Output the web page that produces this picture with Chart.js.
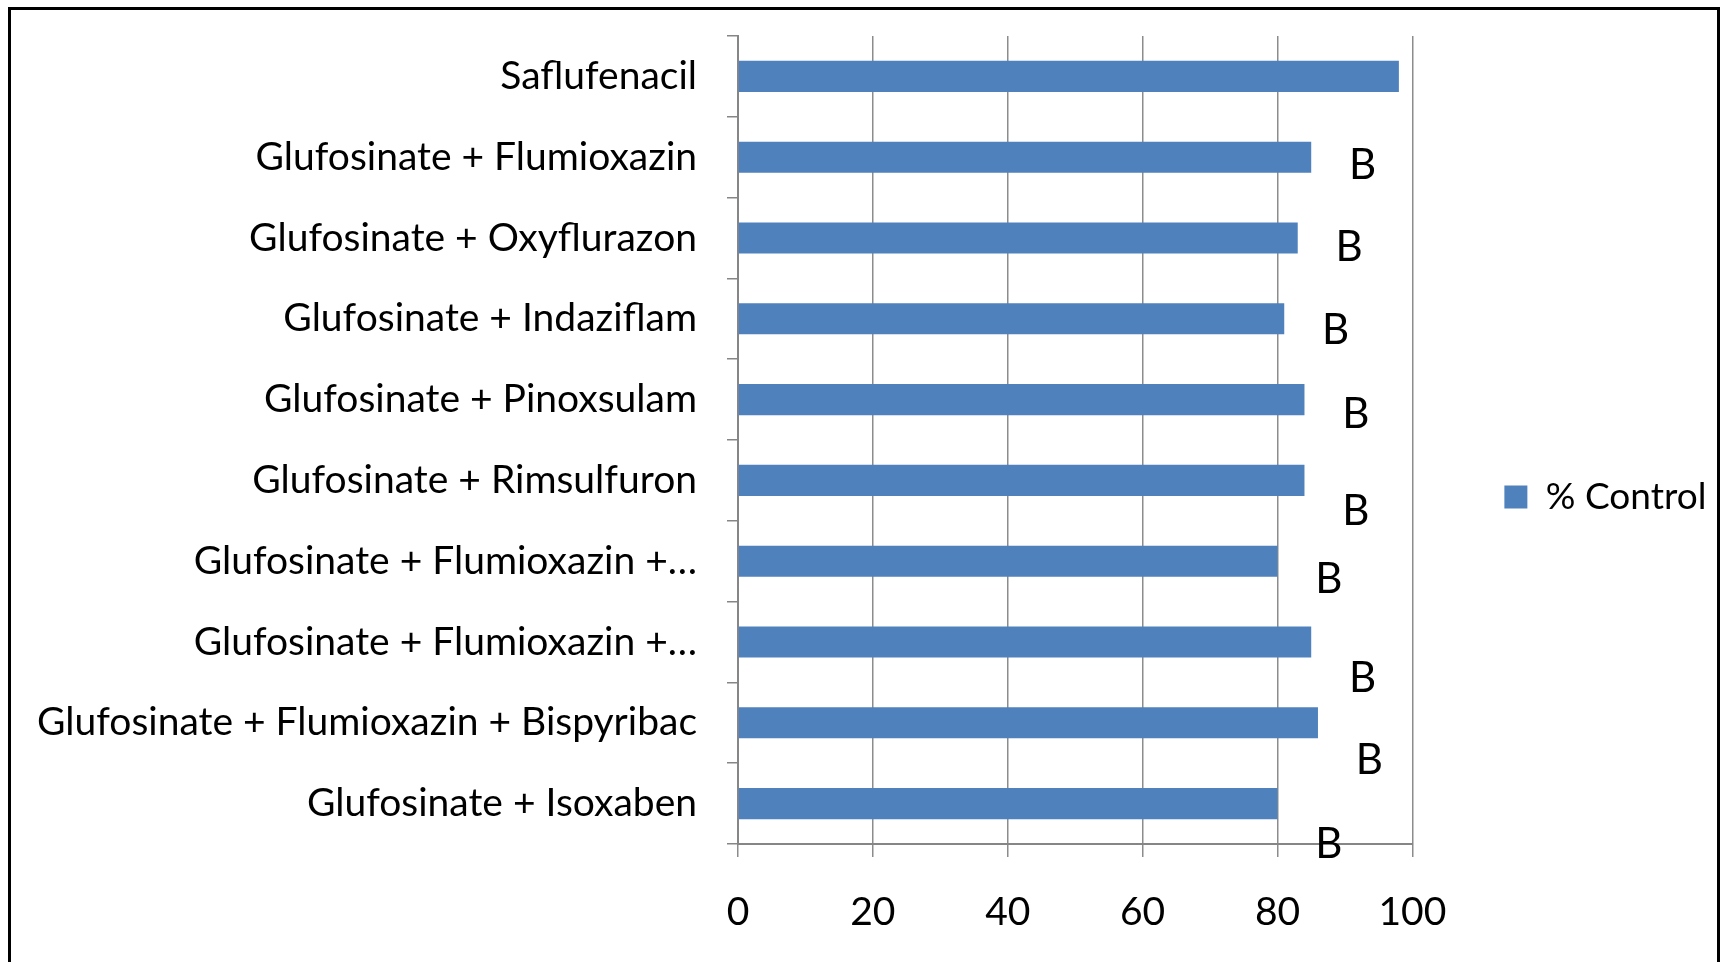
<!DOCTYPE html>
<html>
<head>
<meta charset="utf-8">
<script src="https://cdn.jsdelivr.net/npm/chart.js@4"></script>
<style>
  html, body { margin: 0; padding: 0; background: #fff; }
  #frame {
    position: absolute; left: 8px; top: 7px; width: 1712px; height: 980px;
    border: 3px solid #000; box-sizing: border-box;
  }
  #myChart { position: absolute; left: 0; top: 0; }
</style>
</head>
<body>
<div id="frame"></div>
<canvas id="myChart" width="1727" height="962"></canvas>
<script>
const treatments = [
    "Saflufenacil",
    "Glufosinate + Flumioxazin",
    "Glufosinate + Oxyflurazon",
    "Glufosinate + Indaziflam",
    "Glufosinate + Pinoxsulam",
    "Glufosinate + Rimsulfuron",
    "Glufosinate + Flumioxazin +…",
    "Glufosinate + Flumioxazin +…",
    "Glufosinate + Flumioxazin + Bispyribac",
    "Glufosinate + Isoxaben"
];
const control = [98, 85, 83, 81, 84, 84, 80, 85, 86, 80];
const letters = ["", "B", "B", "B", "B", "B", "B", "B", "B", "B"];
const xTicks = [0, 20, 40, 60, 80, 100];

// how far each letter sits below its bar, as a share of the row
const letterDrop = [0, 0.10, 0.12, 0.14, 0.19, 0.38, 0.23, 0.45, 0.47, 0.51];

const FONT = "Lato";
const axisGray = "#868686";

Chart.defaults.font.family = FONT;
Chart.defaults.color = "#000";

const letterPlugin = {
    id: "letters",
    afterDatasetsDraw(chart) {
        const { ctx, scales: { x, y } } = chart;
        const band = y.getPixelForValue(1) - y.getPixelForValue(0);
        ctx.save();
        ctx.font = `42px ${FONT}`;
        ctx.fillStyle = "#000";
        ctx.textAlign = "center";
        ctx.textBaseline = "middle";
        letters.forEach((t, i) => {
            if (!t) return;
            const px = x.getPixelForValue(control[i] + 7.6);
            const py = y.getPixelForValue(i) + letterDrop[i] * band;
            ctx.fillText(t, px, py);
        });
        ctx.restore();
    }
};

const ctx = document.getElementById("myChart").getContext("2d");
const myChart = new Chart(ctx, {
    type: "bar",
    data: {
        labels: treatments,
        datasets: [{
            label: "% Control",
            data: control,
            backgroundColor: "#4F81BD",
            borderWidth: 0,
            barPercentage: 0.385,
            categoryPercentage: 1
        }]
    },
    options: {
        indexAxis: "y",
        responsive: false,
        animation: false,
        layout: { padding: { top: 36, bottom: 26.6, left: 0, right: 10.6 } },
        scales: {
            x: {
                min: 0,
                max: 100,
                afterBuildTicks(scale) {
                    scale.ticks = xTicks.map(v => ({ value: v }));
                },
                afterFit(scale) {
                    scale.height = 91.4;
                    scale.paddingLeft = 0;
                    scale.paddingRight = 0;
                },
                grid: { color: "#8c8c8c", lineWidth: 1.5, tickLength: 13 },
                border: { color: axisGray, width: 2 },
                ticks: { font: { size: 39 }, padding: 31.6, maxRotation: 0 }
            },
            y: {
                grid: { drawOnChartArea: false, tickLength: 11, color: axisGray, lineWidth: 1.5, offset: true },
                border: { color: axisGray, width: 2 },
                ticks: { font: { size: 39 }, padding: 30, autoSkip: false },
                afterFit(scale) {
                    scale.width = 738;
                    scale.paddingTop = 0;
                    scale.paddingBottom = 0;
                }
            }
        },
        plugins: {
            legend: {
                position: "right",
                title: { display: true, text: "", font: { size: 10 }, padding: { top: 0, bottom: 10.6 } },
                labels: { boxWidth: 23, boxHeight: 23, padding: 92, font: { size: 37 } }
            },
            tooltip: { enabled: false }
        }
    },
    plugins: [letterPlugin]
});
</script>
</body>
</html>
